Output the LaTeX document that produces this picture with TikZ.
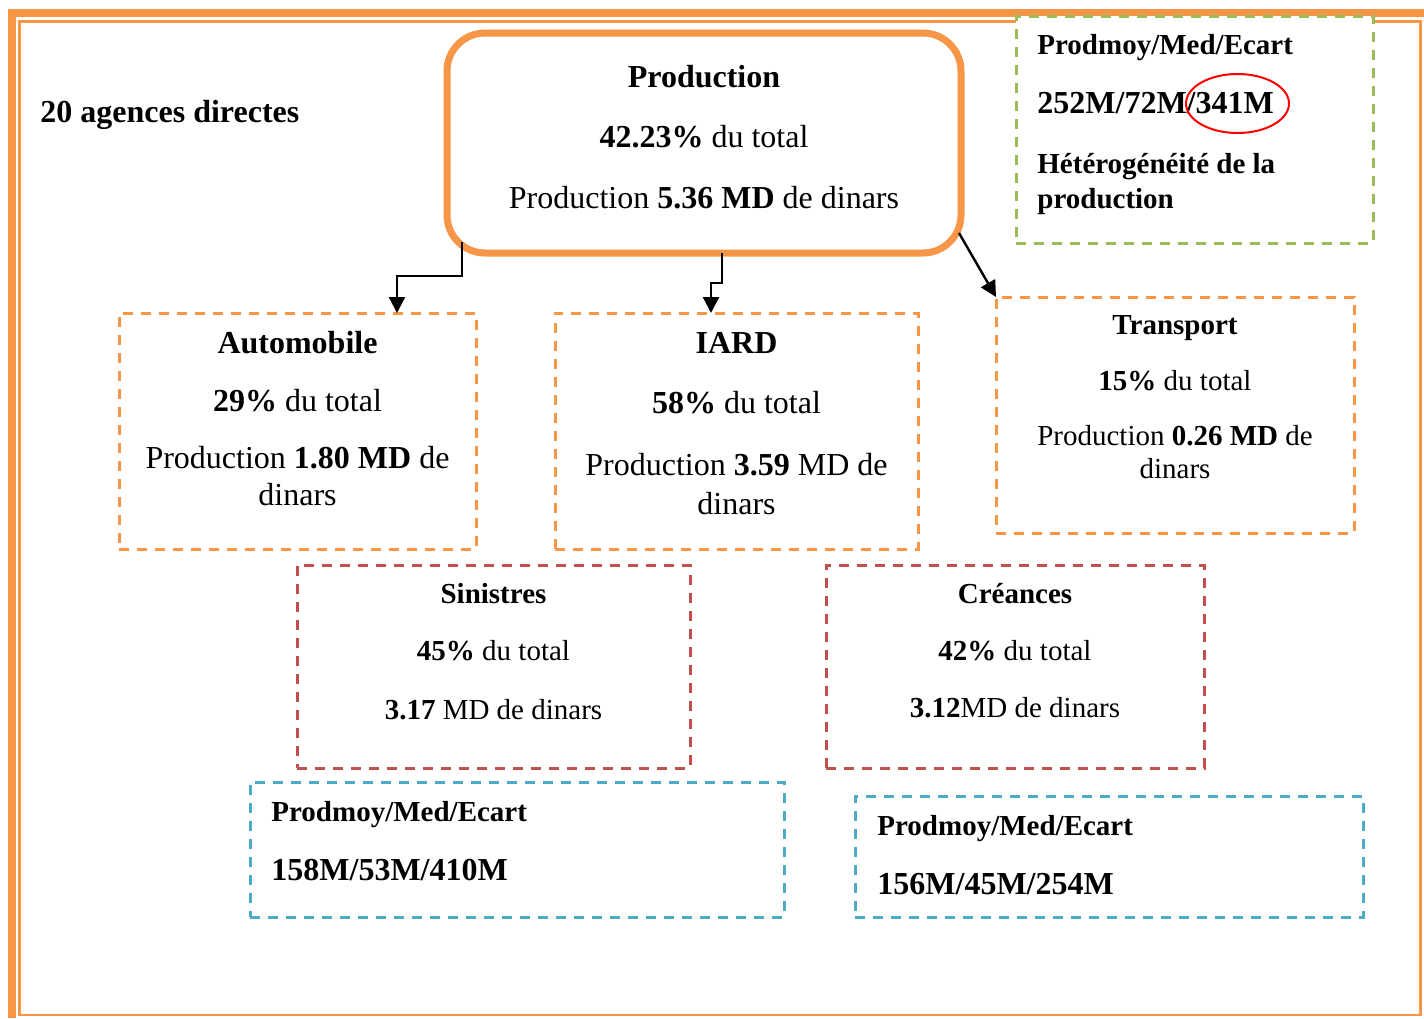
\documentclass[tikz,border=0pt]{standalone}
\usepackage{fontspec}
\setmainfont{Liberation Serif}
\usetikzlibrary{arrows.meta,shapes.geometric,calc}
\definecolor{accorange}{HTML}{F79646}
\definecolor{accgreen}{HTML}{9BBB59}
\definecolor{accred}{HTML}{C0504D}
\definecolor{accblue}{HTML}{4BACC6}
\begin{document}
\begin{tikzpicture}[x=0.5pt,y=-0.5pt,
  big/.style={font=\fontsize{16}{19}\selectfont, inner sep=0pt, anchor=base},
  small/.style={font=\fontsize{14.5}{17}\selectfont, inner sep=0pt, anchor=base},
  dashbox/.style={draw=#1, fill=white, line width=1.5pt, dash pattern=on 5pt off 4pt,
    inner sep=0pt, outer sep=0pt},
  arr/.style={draw=black, line width=1.2pt, -{Triangle[length=8pt,width=8pt]}}]

\useasboundingbox (0,0) rectangle (1424,1018);

% page border: thick rule on top and left, thin frame inside
\draw[accorange, line width=4pt] (11.5,1018) -- (11.5,13) -- (1424,13);
\draw[accorange, line width=1.1pt] (19.5,21.5) rectangle (1420.5,1015);

% heading
\node[big, anchor=base west] (agences) at (40,122) {\textbf{20 agences directes}};

% main box
\node[draw=accorange, fill=white, line width=3.5pt, rounded corners=19pt,
  minimum width=257pt, minimum height=110pt, inner sep=0pt, outer sep=0pt]
  (prod) at (704,143) {};
\node[big] (prodA) at (704,87) {\textbf{Production}};
\node[big] (prodB) at (704,147) {\textbf{42.23\%} du total};
\node[big] (prodC) at (704,208) {Production \textbf{5.36 MD} de dinars};

% statistics box, top right
\node[dashbox=accgreen, minimum width=178.5pt, minimum height=113.5pt]
  (statA) at (1194.5,129.5) {};
\node[small, anchor=base west] (statA1) at (1037,54) {\textbf{Prodmoy/Med/Ecart}};
\node[big, anchor=base west] (statA2) at (1037,113) {\textbf{252M/72M/341M}};
\node[small, anchor=base west] (statA3) at (1037,173) {\textbf{Hétérogénéité de la}};
\node[small, anchor=base west] (statA4) at (1037,208) {\textbf{production}};
\node[draw=red, line width=1pt, ellipse, minimum width=51.5pt, minimum height=29.5pt,
  inner sep=0pt] (mark) at (1237.5,103.5) {};

% branches
\node[dashbox=accorange, minimum width=178.5pt, minimum height=118pt]
  (auto) at (297.5,431) {};
\node[big] (autoA) at (297.5,353) {\textbf{Automobile}};
\node[big] (autoB) at (297.5,411) {\textbf{29\%} du total};
\node[big] (autoC) at (297.5,468) {Production \textbf{1.80 MD} de};
\node[big] (autoD) at (297.5,505) {dinars};

\node[dashbox=accorange, minimum width=181.5pt, minimum height=118pt]
  (iard) at (736.5,431) {};
\node[big] (iardA) at (736.5,353) {\textbf{IARD}};
\node[big] (iardB) at (736.5,413) {\textbf{58\%} du total};
\node[big] (iardC) at (736.5,475) {Production \textbf{3.59} MD de};
\node[big] (iardD) at (736.5,514) {dinars};

\node[dashbox=accorange, minimum width=179pt, minimum height=118pt]
  (trans) at (1175,415) {};
\node[small] (transA) at (1175,334) {\textbf{Transport}};
\node[small] (transB) at (1175,390) {\textbf{15\%} du total};
\node[small] (transC) at (1175,445) {Production \textbf{0.26 MD} de};
\node[small] (transD) at (1175,478) {dinars};

% claims and receivables
\node[dashbox=accred, minimum width=196.5pt, minimum height=101.5pt]
  (sin) at (493.5,666.5) {};
\node[small] (sinA) at (493.5,603) {\textbf{Sinistres}};
\node[small] (sinB) at (493.5,660) {\textbf{45\%} du total};
\node[small] (sinC) at (493.5,719) {\textbf{3.17} MD de dinars};

\node[dashbox=accred, minimum width=189pt, minimum height=101.5pt]
  (cre) at (1015,666.5) {};
\node[small] (creA) at (1015,603) {\textbf{Créances}};
\node[small] (creB) at (1015,660) {\textbf{42\%} du total};
\node[small] (creC) at (1015,717) {\textbf{3.12}MD de dinars};

% statistics boxes, bottom
\node[dashbox=accblue, minimum width=267pt, minimum height=67.5pt]
  (statB) at (517,849.5) {};
\node[small, anchor=base west] (statB1) at (271,821) {\textbf{Prodmoy/Med/Ecart}};
\node[big, anchor=base west] (statB2) at (271,880) {\textbf{158M/53M/410M}};

\node[dashbox=accblue, minimum width=254pt, minimum height=60.5pt]
  (statC) at (1109,856.5) {};
\node[small, anchor=base west] (statC1) at (877,835) {\textbf{Prodmoy/Med/Ecart}};
\node[big, anchor=base west] (statC2) at (877,894) {\textbf{156M/45M/254M}};

% connectors
\draw[arr] ([xshift=7.5pt,yshift=5.5pt]prod.south west) -- ++(0,34)
  -| ([xshift=139pt]auto.north west);
\draw[arr] ([xshift=9pt]prod.south) -- ++(0,30)
  -| ([xshift=78pt]iard.north west);
\draw[arr] ([xshift=-1pt,yshift=10pt]prod.south east) -- (trans.north west);

\end{tikzpicture}
\end{document}
